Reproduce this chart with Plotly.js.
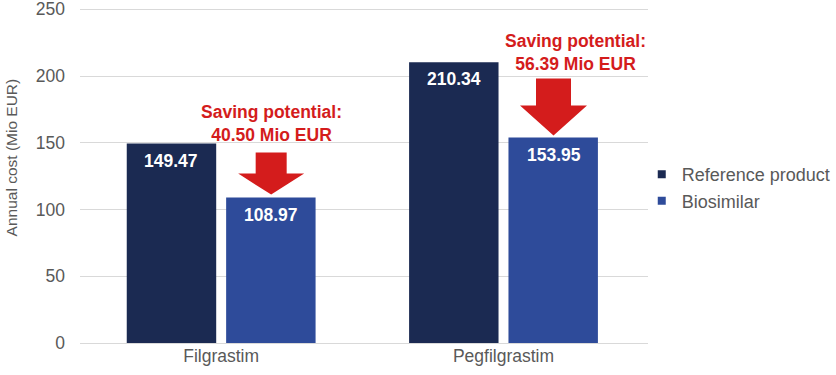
<!DOCTYPE html>
<html>
<head>
<meta charset="utf-8">
<script src="https://cdn.plot.ly/plotly-3.0.1.min.js"></script>
<style>html,body{margin:0;padding:0;background:#fff}#chart{width:836px;height:375px}</style>
</head>
<body>
<div id="chart"></div>
<script>
// ---- data ----
const categories = ["Filgrastim", "Pegfilgrastim"];
const seriesNames = ["Reference product", "Biosimilar"];
const referenceValues = [149.47, 210.34];
const biosimilarValues = [108.97, 153.95];
const savingValues = [40.50, 56.39];
const yTicks = [0, 50, 100, 150, 200, 250];
const yTitle = "Annual cost (Mio EUR)";

// ---- style ----
const FONT = "Liberation Sans, Arial, sans-serif";
const refColor = "#1b2a52";
const bioColor = "#2e4b9a";
const red = "#d41c1c";
const grey = "#595959";
const barOffsetPx = 50;            // bar centre offset from category centre
const labelShift = -17;            // value label below bar top
const savingTextShift = [[0, 74], [22, 85]];  // [x px, y px] above biosimilar top
// arrow geometry in px: [tipGap, headBase, headHalf, shaftHalf, shaftTop]
const arrowGeom = [[3, 24, 33, 15.5, 45], [2, 32, 33.5, 17.5, 59]];

const traces = [
  {type: "bar", x: categories, y: referenceValues, name: seriesNames[0],
   marker: {color: refColor}, showlegend: false, hoverinfo: "x+y"},
  {type: "bar", x: categories, y: biosimilarValues, name: seriesNames[1],
   marker: {color: bioColor}, showlegend: false, hoverinfo: "x+y"},
  {type: "scatter", mode: "markers", x: [null], y: [null], name: seriesNames[0],
   marker: {symbol: "square", size: 8, color: refColor}, showlegend: true},
  {type: "scatter", mode: "markers", x: [null], y: [null], name: seriesNames[1],
   marker: {symbol: "square", size: 8, color: bioColor}, showlegend: true}
];

const annotations = [];
categories.forEach((c, i) => {
  annotations.push({x: c, y: referenceValues[i], xref: "x", yref: "y",
    text: "<b>" + referenceValues[i].toFixed(2) + "</b>", showarrow: false,
    xshift: -barOffsetPx, yshift: labelShift, yanchor: "middle",
    font: {family: FONT, size: 17.5, color: "#ffffff"}});
  annotations.push({x: c, y: biosimilarValues[i], xref: "x", yref: "y",
    text: "<b>" + biosimilarValues[i].toFixed(2) + "</b>", showarrow: false,
    xshift: barOffsetPx, yshift: labelShift, yanchor: "middle",
    font: {family: FONT, size: 17.5, color: "#ffffff"}});
  annotations.push({x: c, y: biosimilarValues[i], xref: "x", yref: "y",
    text: "<b>Saving potential:<br>" + savingValues[i].toFixed(2) + " Mio EUR</b>",
    showarrow: false, xshift: barOffsetPx + savingTextShift[i][0],
    yshift: savingTextShift[i][1], yanchor: "middle", align: "center",
    font: {family: FONT, size: 17.5, color: red}});
});
annotations.push({xref: "paper", yref: "paper", x: 0, y: 0.554, xshift: -69,
  xanchor: "center", yanchor: "middle", textangle: -90, showarrow: false,
  text: yTitle, font: {family: FONT, size: 15.5, color: grey}});

const shapes = categories.map((c, i) => {
  const [t, hb, hh, sh, st] = arrowGeom[i];
  const o = barOffsetPx;
  const p = `M${o - sh},${st} L${o + sh},${st} L${o + sh},${hb} L${o + hh},${hb} ` +
            `L${o},${t} L${o - hh},${hb} L${o - sh},${hb} Z`;
  return {type: "path", xref: "x", yref: "y", xsizemode: "pixel", ysizemode: "pixel",
    xanchor: i, yanchor: biosimilarValues[i], path: p,
    fillcolor: red, line: {width: 0}, layer: "above"};
});

const layout = {
  width: 836, height: 375,
  margin: {l: 80, r: 188, t: 8, b: 32, autoexpand: false},
  paper_bgcolor: "#ffffff", plot_bgcolor: "#ffffff",
  font: {family: FONT, color: grey, size: 17.5},
  barmode: "group", bargap: 0.296, bargroupgap: 0.1,
  xaxis: {type: "category", showgrid: false, showline: false, ticks: "",
    tickfont: {family: FONT, size: 17.5, color: grey}, fixedrange: true},
  yaxis: {range: [0, 251], tickvals: yTicks, ticktext: yTicks.map(String),
    showgrid: true, gridcolor: "#d9d9d9", gridwidth: 1,
    zeroline: true, zerolinecolor: "#d9d9d9", zerolinewidth: 1,
    showline: false, ticks: "", ticklabelstandoff: 14, ticklabeloverflow: "allow",
    tickfont: {family: FONT, size: 17.5, color: grey}, fixedrange: true},
  showlegend: true,
  legend: {x: 0.989, xanchor: "left", y: 0.464, yanchor: "middle",
    itemwidth: 30, bgcolor: "rgba(0,0,0,0)",
    font: {family: FONT, size: 18, color: grey}},
  annotations: annotations,
  shapes: shapes
};

Plotly.newPlot("chart", traces, layout, {displayModeBar: false, staticPlot: true});
</script>
</body>
</html>
